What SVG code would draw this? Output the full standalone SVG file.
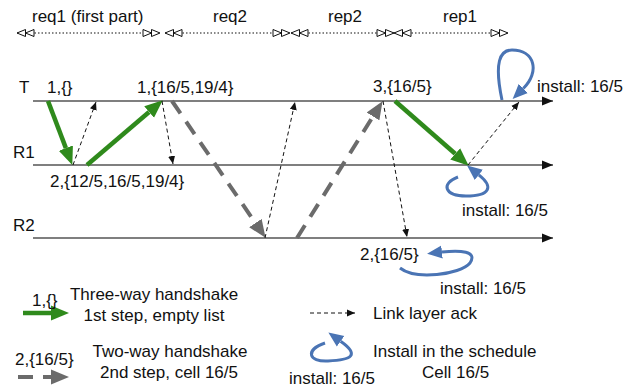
<svg xmlns="http://www.w3.org/2000/svg" width="635" height="392" viewBox="0 0 635 392">
<style>
text{font-family:"Liberation Sans",Arial,Helvetica,sans-serif;font-size:17px;fill:#111}
.mid{text-anchor:middle}
.tl{stroke:#555;stroke-width:1.6;fill:none}
.green{stroke:#2f8a1c;stroke-width:4.5;fill:none}
.gray{stroke:#6b6b6b;stroke-width:4;stroke-dasharray:15 10;fill:none}
.ack{stroke:#111;stroke-width:1;stroke-dasharray:4 3;fill:none}
.loop{stroke:#4a74b4;stroke-width:3;fill:none}
.phase{stroke:#111;stroke-width:1.2;stroke-dasharray:1.5 2;fill:none}
</style>
<defs>
<marker id="tlHead" markerUnits="userSpaceOnUse" markerWidth="12" markerHeight="10" refX="11" refY="5" orient="auto"><path d="M0,0.5 L11,5 L0,9.5 z" fill="#111"/></marker>
<marker id="greenHead" markerUnits="userSpaceOnUse" markerWidth="19" markerHeight="16" refX="0" refY="8" orient="auto"><path d="M0,0.5 L18,8 L0,15.5 z" fill="#2f8a1c"/></marker>
<marker id="grayHead" markerUnits="userSpaceOnUse" markerWidth="19" markerHeight="16" refX="0" refY="8" orient="auto"><path d="M0,0.5 L18,8 L0,15.5 z" fill="#6b6b6b"/></marker>
<marker id="ackHead" markerUnits="userSpaceOnUse" markerWidth="9" markerHeight="8" refX="8" refY="4" orient="auto"><path d="M0,0.5 L8,4 L0,7.5 z" fill="#111"/></marker>
<marker id="loopHead" markerUnits="userSpaceOnUse" markerWidth="16" markerHeight="14" refX="0" refY="7" orient="auto"><path d="M0,0.5 L15,7 L0,13.5 z" fill="#4a74b4"/></marker>
<marker id="dblEnd" markerUnits="userSpaceOnUse" markerWidth="20" markerHeight="10" refX="18" refY="5" orient="auto"><path d="M1,1.5 L9.5,5 L1,8.5 z M9.5,1.5 L18,5 L9.5,8.5 z" fill="#fff" stroke="#111" stroke-width="1"/></marker>
<marker id="dblStart" markerUnits="userSpaceOnUse" markerWidth="20" markerHeight="10" refX="1" refY="5" orient="auto"><path d="M9.5,1.5 L1,5 L9.5,8.5 z M18,1.5 L9.5,5 L18,8.5 z" fill="#fff" stroke="#111" stroke-width="1"/></marker>
</defs>

<g id="phases">
<path class="phase" d="M17,33 H160" marker-start="url(#dblStart)" marker-end="url(#dblEnd)"/>
<path class="phase" d="M165,33 H290" marker-start="url(#dblStart)" marker-end="url(#dblEnd)"/>
<path class="phase" d="M291,33 H394" marker-start="url(#dblStart)" marker-end="url(#dblEnd)"/>
<path class="phase" d="M394,33 H508" marker-start="url(#dblStart)" marker-end="url(#dblEnd)"/>
<text x="32" y="22">req1 (first part)</text>
<text x="213" y="22">req2</text>
<text x="328" y="22">rep2</text>
<text x="443" y="22">rep1</text>
</g>

<g id="node-T">
<line class="tl" x1="33" y1="101" x2="553" y2="101" marker-end="url(#tlHead)"/>
<text x="19" y="93">T</text>
</g>
<g id="node-R1">
<line class="tl" x1="33" y1="165" x2="553" y2="165" marker-end="url(#tlHead)"/>
<text x="13" y="158">R1</text>
</g>
<g id="node-R2">
<line class="tl" x1="33" y1="238" x2="553" y2="238" marker-end="url(#tlHead)"/>
<text x="13" y="231">R2</text>
</g>

<g id="connectors">
<line class="green" x1="48" y1="101" x2="65.9" y2="148.1" marker-end="url(#greenHead)"/>
<line class="green" x1="87" y1="165" x2="149.1" y2="112" marker-end="url(#greenHead)"/>
<line class="green" x1="395" y1="101" x2="455.2" y2="153.8" marker-end="url(#greenHead)"/>
<line class="gray" x1="172" y1="101" x2="255.4" y2="223" marker-end="url(#grayHead)"/>
<line class="gray" x1="297" y1="238" x2="373" y2="116.4" marker-end="url(#grayHead)"/>
<line class="ack" x1="73" y1="165" x2="96" y2="102" marker-end="url(#ackHead)"/>
<line class="ack" x1="162" y1="101" x2="173" y2="164" marker-end="url(#ackHead)"/>
<line class="ack" x1="265" y1="238" x2="295" y2="102" marker-end="url(#ackHead)"/>
<line class="ack" x1="383" y1="101" x2="407" y2="237" marker-end="url(#ackHead)"/>
<line class="ack" x1="468" y1="165" x2="519" y2="102" marker-end="url(#ackHead)"/>
<path class="loop" d="M502,100 C494,62 500,50 512,50 C535,50 540,72 523.3,88.5" marker-end="url(#loopHead)"/>
<path class="loop" d="M458,177 C440,184 445,196 466,196 C490,196 494,187 478.8,174.9" marker-end="url(#loopHead)"/>
<path class="loop" d="M400,268 C415,280 460,275 470,263 C478,251 460,250 442,252" marker-end="url(#loopHead)"/>
</g>

<g id="labels">
<text x="47" y="93">1,{}</text>
<text x="137" y="93">1,{16/5,19/4}</text>
<text x="50" y="187">2,{12/5,16/5,19/4}</text>
<text x="373" y="92">3,{16/5}</text>
<text x="537" y="92">install: 16/5</text>
<text x="462" y="216">install: 16/5</text>
<text x="360" y="260">2,{16/5}</text>
<text x="440" y="294">install: 16/5</text>
</g>

<g id="legend">
<line class="green" x1="23" y1="313" x2="51" y2="313" marker-end="url(#greenHead)"/>
<text x="32" y="306">1,{}</text>
<text class="mid" x="154" y="300">Three-way handshake</text>
<text class="mid" x="154" y="321">1st step, empty list</text>
<line class="gray" x1="18" y1="377" x2="51" y2="377" marker-end="url(#grayHead)"/>
<text x="15" y="365">2,{16/5}</text>
<text class="mid" x="170" y="357">Two-way handshake</text>
<text class="mid" x="169" y="378">2nd step, cell 16/5</text>
<line class="ack" x1="310" y1="313" x2="355" y2="313" marker-end="url(#ackHead)"/>
<text x="373" y="319">Link layer ack</text>
<path class="loop" d="M325,343 C305,350 308,362 328,361 C352,360 360,355 340.6,341.2" marker-end="url(#loopHead)"/>
<text x="289" y="384">install: 16/5</text>
<text x="373" y="357">Install in the schedule</text>
<text x="422" y="378">Cell 16/5</text>
</g>
</svg>
